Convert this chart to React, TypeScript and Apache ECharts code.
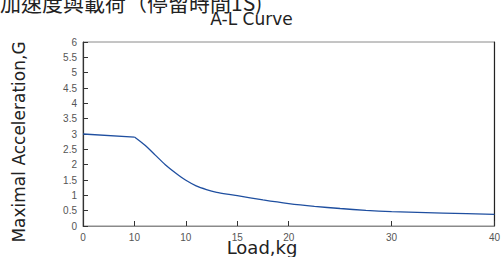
import React, { useEffect, useRef } from "react";
import * as echarts from "echarts";

const titleMain = "加速度與載荷（停留時間1S)";
const titleSub = "A-L Curve";
const xName = "Load,kg";
const yName = "Maximal Acceleration,G";

// load positions (on a 0–40 scale) and the maximal acceleration read at each
const loadValues = [0, 5, 6, 7, 8, 9, 10, 11, 12, 13, 14, 15, 17.5, 20, 22.5, 25, 27.5, 30, 35, 40];
const accelValues = [3.0, 2.9, 2.64, 2.32, 2.0, 1.73, 1.49, 1.31, 1.19, 1.1, 1.04, 0.99, 0.85, 0.73, 0.64, 0.57, 0.51, 0.47, 0.42, 0.38];
// the flat part ends at this load; the curve after it is smooth
const kneeLoad = 5;

// x tick positions and the labels printed under them
const xTickValues = [0, 5, 10, 15, 20, 30, 40];
const xTickLabels = ["0", "10", "10", "15", "20", "30", "40"];

const yMin = 0;
const yMax = 6;
const yStep = 0.5;

export default function App() {
  const ref = useRef<HTMLDivElement>(null);
  useEffect(() => {
    if (!ref.current) return;
    const chart = echarts.init(ref.current, null, { renderer: "svg" });
    const latin = "DejaVu Sans";
    const tickFont = "Liberation Sans";
    const pts = loadValues.map((x, i) => [x, accelValues[i]]);
    const flatPart = pts.filter((p) => p[0] <= kneeLoad);
    const curvePart = pts.filter((p) => p[0] >= kneeLoad);
    const lineStyle = { color: "#1f4fa0", width: 1.3 };
    chart.setOption({
      animation: false,
      backgroundColor: "#ffffff",
      grid: {
        left: 83,
        right: 8,
        top: 42,
        bottom: 31,
        show: true,
        borderColor: "#8a8a8a",
        borderWidth: 1,
        backgroundColor: "transparent",
      },
      xAxis: {
        type: "value",
        min: 0,
        max: 40,
        axisLine: { show: true, lineStyle: { color: "#8a8a8a", width: 1.2 } },
        axisTick: {
          show: true,
          inside: true,
          length: 5,
          customValues: xTickValues,
          lineStyle: { color: "#333" },
        },
        axisLabel: {
          customValues: xTickValues,
          formatter: (v: number) => {
            const i = xTickValues.indexOf(v);
            return i >= 0 ? xTickLabels[i] : "";
          },
          color: "#555",
          fontFamily: tickFont,
          fontSize: 10,
          margin: 6,
        },
        splitLine: { show: false },
      },
      yAxis: [
        {
          type: "value",
          min: yMin,
          max: yMax,
          interval: yStep,
          axisLine: { show: true, lineStyle: { color: "#333", width: 1.2 } },
          axisTick: { show: true, inside: true, length: 5, lineStyle: { color: "#333" } },
          axisLabel: {
            color: "#555",
            fontFamily: tickFont,
            fontSize: 10,
            margin: 6,
          },
          splitLine: { show: false },
        },
        {
          type: "value",
          position: "right",
          min: yMin,
          max: yMax,
          interval: yStep,
          axisLine: { show: true, lineStyle: { color: "#222", width: 1.2 } },
          axisTick: { show: false },
          axisLabel: { show: false },
          splitLine: { show: false },
        },
      ],
      series: [
        {
          type: "line",
          data: flatPart,
          showSymbol: false,
          smooth: false,
          lineStyle,
        },
        {
          type: "line",
          data: curvePart,
          showSymbol: false,
          smooth: 0.25,
          lineStyle,
        },
      ],
      graphic: [
        {
          type: "text",
          left: 0,
          top: -9,
          style: {
            text: titleMain,
            font: '21px "Noto Sans CJK TC"',
            fill: "#222",
          },
        },
        {
          type: "text",
          x: 251.5,
          y: 19,
          style: {
            text: titleSub,
            font: `17px "${latin}"`,
            fill: "#222",
            align: "center",
            verticalAlign: "middle",
          },
        },
        {
          type: "text",
          x: 262,
          y: 247,
          style: {
            text: xName,
            font: `18px "${latin}"`,
            fill: "#222",
            align: "center",
            verticalAlign: "middle",
          },
        },
        {
          type: "text",
          x: 19,
          y: 142,
          rotation: Math.PI / 2,
          style: {
            text: yName,
            font: `17px "${latin}"`,
            fill: "#222",
            align: "center",
            verticalAlign: "middle",
          },
        },
      ],
    });
    return () => chart.dispose();
  }, []);
  return (
    <div
      ref={ref}
      style={{ position: "absolute", left: 0, top: 0, width: 503, height: 257 }}
    />
  );
}
